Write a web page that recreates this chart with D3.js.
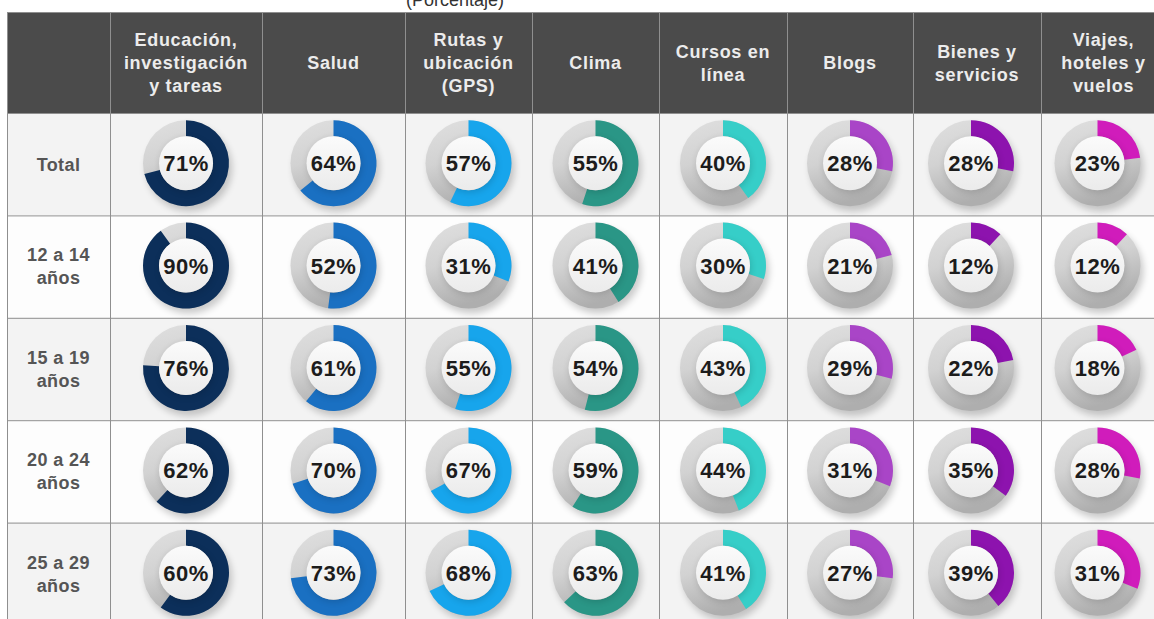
<!DOCTYPE html>
<html>
<head>
<meta charset="utf-8">
<script src="https://cdn.jsdelivr.net/npm/d3@7"></script>
<style>
  body { margin: 0; background: #fff; }
  text { font-family: "Liberation Sans", Arial, sans-serif; }
</style>
</head>
<body>
<svg id="chart"></svg>
<script>
// datos
var categories = ["Educación, investigación y tareas", "Salud", "Rutas y ubicación (GPS)", "Clima", "Cursos en línea", "Blogs", "Bienes y servicios", "Viajes, hoteles y vuelos"];
var headerLines = [["Educación,", "investigación", "y tareas"], ["Salud"], ["Rutas y", "ubicación", "(GPS)"], ["Clima"], ["Cursos en", "línea"], ["Blogs"], ["Bienes y", "servicios"], ["Viajes,", "hoteles y", "vuelos"]];
var groups = ["Total", "12 a 14 años", "15 a 19 años", "20 a 24 años", "25 a 29 años"];
var groupLines = [["Total"], ["12 a 14", "años"], ["15 a 19", "años"], ["20 a 24", "años"], ["25 a 29", "años"]];
var total   = [71, 64, 57, 55, 40, 28, 28, 23];
var age1214 = [90, 52, 31, 41, 30, 21, 12, 12];
var age1519 = [76, 61, 55, 54, 43, 29, 22, 18];
var age2024 = [62, 70, 67, 59, 44, 31, 35, 28];
var age2529 = [60, 73, 68, 63, 41, 27, 39, 31];
var rows = [total, age1214, age1519, age2024, age2529];
var colors = ["#0c2f5a", "#1a70c2", "#17a5ec", "#2a9686", "#36cec8", "#a945c7", "#8d13ae", "#d01cbb"];

var W = 1154, H = 619;
var svg = d3.select('#chart').attr('width', W).attr('height', H);

// bordes de columnas (la primera es la de etiquetas)
var colEdges = [7, 110, 262, 405, 532, 659, 787, 913, 1041, 1166];
var headTop = 12, headBottom = 113;

var xLeft = d3.scaleOrdinal().domain(categories).range(colEdges.slice(1, -1));
var xRight = d3.scaleOrdinal().domain(categories).range(colEdges.slice(2));
var xMid = function (c) { return (xLeft(c) + xRight(c)) / 2; };
var y = d3.scaleBand().domain(groups).range([headBottom, 625]);
var angle = d3.scaleLinear().domain([0, 100]).range([0, 2 * Math.PI]);

var defs = svg.append('defs');
var sh = defs.append('filter').attr('id', 'shadow').attr('x', '-50%').attr('y', '-50%').attr('width', '200%').attr('height', '200%');
sh.append('feGaussianBlur').attr('stdDeviation', 3.5);
var ringGrad = defs.append('linearGradient').attr('id', 'ring').attr('x1', 0).attr('y1', 0).attr('x2', 0.3).attr('y2', 1);
ringGrad.append('stop').attr('offset', '0%').attr('stop-color', '#e0e0e0');
ringGrad.append('stop').attr('offset', '50%').attr('stop-color', '#d2d2d2');
ringGrad.append('stop').attr('offset', '100%').attr('stop-color', '#aeaeae');
var holeGrad = defs.append('linearGradient').attr('id', 'hole').attr('x1', 0).attr('y1', 0).attr('x2', 0).attr('y2', 1);
holeGrad.append('stop').attr('offset', '0%').attr('stop-color', '#fbfbfb');
holeGrad.append('stop').attr('offset', '100%').attr('stop-color', '#ebebeb');

// título (cortado arriba, como en el original)
svg.append('text')
  .attr('x', 455).attr('y', 6)
  .attr('text-anchor', 'middle')
  .style('font-size', '18px').style('fill', '#333')
  .text('(Porcentaje)');

// fondos de filas
svg.selectAll('rect.row')
  .data(groups)
  .enter().append('rect')
  .attr('class', 'row')
  .attr('x', colEdges[0]).attr('y', d => y(d))
  .attr('width', W - colEdges[0]).attr('height', y.bandwidth())
  .attr('fill', (d, i) => i % 2 === 0 ? '#f3f3f3' : '#fdfdfd');

// encabezado
svg.append('rect')
  .attr('x', colEdges[0]).attr('y', headTop)
  .attr('width', W - colEdges[0]).attr('height', headBottom - headTop)
  .attr('fill', '#4b4b4b');

// líneas de la tabla
svg.selectAll('line.h')
  .data(groups)
  .enter().append('line')
  .attr('x1', colEdges[0]).attr('x2', W)
  .attr('y1', d => y(d) + 0.5).attr('y2', d => y(d) + 0.5)
  .attr('stroke', '#8f8f8f').attr('stroke-width', 1);
svg.selectAll('line.v')
  .data(colEdges.slice(0, -1))
  .enter().append('line')
  .attr('x1', d => d + 0.5).attr('x2', d => d + 0.5)
  .attr('y1', headTop).attr('y2', H)
  .attr('stroke', '#8f8f8f').attr('stroke-width', 1);
svg.append('line')
  .attr('x1', colEdges[0]).attr('x2', W)
  .attr('y1', headTop + 0.5).attr('y2', headTop + 0.5)
  .attr('stroke', '#8f8f8f');

// textos del encabezado
categories.forEach(function (c, i) {
  var lines = headerLines[i];
  var t = svg.append('text')
    .attr('text-anchor', 'middle')
    .style('font-size', '18px').style('font-weight', 'bold')
    .style('letter-spacing', '0.7px')
    .style('fill', '#ececec');
  lines.forEach(function (l, j) {
    t.append('tspan')
      .attr('x', xMid(c))
      .attr('y', 63 + (j - (lines.length - 1) / 2) * 23)
      .attr('dy', '0.35em')
      .text(l);
  });
});

// etiquetas de filas
groups.forEach(function (g, i) {
  var lines = groupLines[i];
  var t = svg.append('text')
    .attr('text-anchor', 'middle')
    .style('font-size', '18px').style('font-weight', 'bold')
    .style('letter-spacing', '0.4px')
    .style('fill', '#555');
  lines.forEach(function (l, j) {
    t.append('tspan')
      .attr('x', (colEdges[0] + colEdges[1]) / 2)
      .attr('y', y(g) + y.bandwidth() / 2 + (j - (lines.length - 1) / 2) * 23)
      .attr('dy', '0.35em')
      .text(l);
  });
});

// donas
var rOut = 43, rIn = 27;
var arc = d3.arc().innerRadius(rIn).outerRadius(rOut);

groups.forEach(function (g, ri) {
  categories.forEach(function (c, ci) {
    var v = rows[ri][ci];
    var cx = xMid(c) - (ci >= 6 ? 6 : 0);
    var cy = y(g) + y.bandwidth() / 2 - 1;
    var d = svg.append('g').attr('transform', 'translate(' + cx + ',' + cy + ')');
    d.append('circle').attr('cx', 3).attr('cy', 5).attr('r', rOut)
      .attr('fill', '#000').attr('opacity', 0.2).attr('filter', 'url(#shadow)');
    d.append('circle').attr('r', rOut).attr('fill', 'url(#ring)');
    d.append('path')
      .attr('d', arc({ startAngle: 0, endAngle: angle(v) }))
      .attr('fill', colors[ci]);
    d.append('circle').attr('cx', 1).attr('cy', 2).attr('r', rIn)
      .attr('fill', '#000').attr('opacity', 0.15).attr('filter', 'url(#shadow)');
    d.append('circle').attr('r', rIn).attr('fill', 'url(#hole)');
    d.append('text')
      .attr('text-anchor', 'middle').attr('dy', '0.36em')
      .style('font-size', '22px').style('font-weight', 'bold')
      .style('letter-spacing', '0.5px')
      .style('fill', '#1c1c1c')
      .text(v + '%');
  });
});
</script>
</body>
</html>
